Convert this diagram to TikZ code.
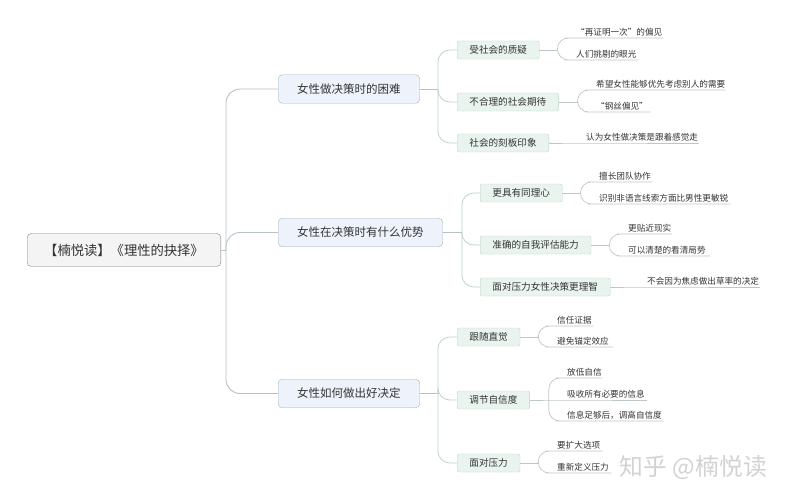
\documentclass[tikz,border=0pt]{standalone}
\usepackage{fontspec}
\setmainfont{Noto Sans CJK SC}
\usepackage{tikz}
\usetikzlibrary{positioning}
\definecolor{RootFill}{HTML}{F4F4F4}
\definecolor{RootLine}{HTML}{7F7F7F}
\definecolor{TopicFill}{HTML}{EEF3FB}
\definecolor{TopicLine}{HTML}{A3B4BF}
\definecolor{SubFill}{HTML}{EAF4EF}
\definecolor{SubLine}{HTML}{BBD2C8}
\definecolor{Wire}{HTML}{B4C2C6}
\definecolor{Twig}{HTML}{BFC6C6}
\definecolor{Ink}{HTML}{333333}
\definecolor{Mark}{HTML}{D2D2D2}

\begin{document}
\begin{tikzpicture}[
    x=1pt, y=-1pt,
    root/.style={draw=RootLine, fill=RootFill, rounded corners=4pt, anchor=west, minimum height=33pt,
      inner xsep=17pt, inner ysep=0pt, text=Ink, font={\fontsize{13.3}{16}\selectfont}},
    topic/.style={draw=TopicLine, fill=TopicFill, rounded corners=4pt, anchor=west, minimum height=28.5pt,
      inner xsep=19pt, inner ysep=0pt, text=Ink, font={\fontsize{11.5}{14}\selectfont}},
    sub/.style={draw=SubLine, fill=SubFill, rounded corners=2pt, anchor=west, minimum height=18pt,
      inner xsep=12.2pt, inner ysep=0pt, text=Ink, font={\fontsize{9.6}{12}\selectfont}},
    leaf/.style={anchor=south west, text width=#1pt, inner xsep=0pt, inner ysep=1.5pt, align=left,
      text=Ink, font={\fontsize{8.6}{10}\selectfont}},
    wire/.style={draw=Wire, line width=0.9pt},
    trunk/.style={wire, rounded corners=14pt},
    branch/.style={draw=SubLine, line width=0.8pt, rounded corners=12pt},
    twig/.style={draw=Twig, line width=0.7pt, rounded corners=11pt}
  ]

  \useasboundingbox (0,0) rectangle (787,500);

  \node[root] (book) at (27,250) {【楠悦读】《理性的抉择》};
  \coordinate[right=5pt of book] (c0);

  \node[topic] (hard) at (278,89) {女性做决策时的困难};
  \node[topic] (good) at (278,232.5) {女性在决策时有什么优势};
  \node[topic] (how) at (278,393.5) {女性如何做出好决定};

  \draw[wire] (book) -- (c0);
  \draw[trunk] (c0) |- (hard);
  \draw[trunk] (c0) |- (good);
  \draw[trunk] (c0) |- (how);

  \coordinate[right=18pt of hard] (c1);
  \coordinate[right=19pt of good] (c2);
  \coordinate[right=18pt of how] (c3);

  \node[sub] (doubt) at (457,50) {受社会的质疑};
  \node[sub] (expect) at (457,102) {不合理的社会期待};
  \node[sub] (stereo) at (457,143) {社会的刻板印象};

  \node[sub] (empathy) at (480,193) {更具有同理心};
  \node[sub] (assess) at (480,245) {准确的自我评估能力};
  \node[sub] (calm) at (480,287) {面对压力女性决策更理智};

  \node[sub] (gut) at (457,337) {跟随直觉};
  \node[sub] (confid) at (457,400) {调节自信度};
  \node[sub] (press) at (457,463) {面对压力};

  \draw[wire] (hard) -- (c1);
  \draw[branch] (c1) |- (doubt);
  \draw[branch] (c1) |- (expect);
  \draw[branch] (c1) |- (stereo);

  \draw[wire] (good) -- (c2);
  \draw[branch] (c2) |- (empathy);
  \draw[branch] (c2) |- (assess);
  \draw[branch] (c2) |- (calm);

  \draw[wire] (how) -- (c3);
  \draw[branch] (c3) |- (gut);
  \draw[branch] (c3) |- (confid);
  \draw[branch] (c3) |- (press);

  \coordinate[right=18pt of doubt] (f1);
  \coordinate[right=19pt of expect] (f2);
  \coordinate[right=18pt of empathy] (f3);
  \coordinate[right=18pt of assess] (f4);
  \coordinate[right=18pt of gut] (f5);
  \coordinate[right=19pt of confid] (f6);
  \coordinate[right=18pt of press] (f7);

  \node[leaf=87] (a1) at (576,38) {“再证明一次”的偏见};
  \node[leaf=62] (a2) at (576,60) {人们挑剔的眼光};
  \node[leaf=129] (a3) at (596,90) {希望女性能够优先考虑别人的需要};
  \node[leaf=54] (a4) at (596,112) {“钢丝偏见”};
  \node[leaf=113] (a5) at (586,143) {认为女性做决策是跟着感觉走};

  \node[leaf=53] (b1) at (599,182) {擅长团队协作};
  \node[leaf=131] (b2) at (599,204) {识别非语言线索方面比男性更敏锐};
  \node[leaf=44] (b3) at (628,234) {更贴近现实};
  \node[leaf=82] (b4) at (628,256) {可以清楚的看清局势};
  \node[leaf=113] (b5) at (647,287) {不会因为焦虑做出草率的决定};

  \node[leaf=36] (d1) at (557,326) {信任证据};
  \node[leaf=56] (d2) at (557,347) {避免锚定效应};
  \node[leaf=35] (d3) at (567,378) {放低自信};
  \node[leaf=80] (d4) at (567,400) {吸收所有必要的信息};
  \node[leaf=96] (d5) at (567,421) {信息足够后，调高自信度};
  \node[leaf=45] (d6) at (557,451) {要扩大选项};
  \node[leaf=54] (d7) at (557,473) {重新定义压力};

  \draw[wire, draw=Twig] (doubt) -- (f1);
  \draw[twig] (f1) |- (a1.south west) -- (a1.south east);
  \draw[twig] (f1) |- (a2.south west) -- (a2.south east);
  \draw[wire, draw=Twig] (expect) -- (f2);
  \draw[twig] (f2) |- (a3.south west) -- (a3.south east);
  \draw[twig] (f2) |- (a4.south west) -- (a4.south east);
  \draw[twig] (stereo) -- (a5.south west) -- (a5.south east);

  \draw[wire, draw=Twig] (empathy) -- (f3);
  \draw[twig] (f3) |- (b1.south west) -- (b1.south east);
  \draw[twig] (f3) |- (b2.south west) -- (b2.south east);
  \draw[wire, draw=Twig] (assess) -- (f4);
  \draw[twig] (f4) |- (b3.south west) -- (b3.south east);
  \draw[twig] (f4) |- (b4.south west) -- (b4.south east);
  \draw[twig] (calm) -- (b5.south west) -- (b5.south east);

  \draw[wire, draw=Twig] (gut) -- (f5);
  \draw[twig] (f5) |- (d1.south west) -- (d1.south east);
  \draw[twig] (f5) |- (d2.south west) -- (d2.south east);
  \draw[twig] (f6) |- (d3.south west) -- (d3.south east);
  \draw[twig] (confid) -- (d4.south west) -- (d4.south east);
  \draw[twig] (f6) |- (d5.south west) -- (d5.south east);
  \draw[wire, draw=Twig] (press) -- (f7);
  \draw[twig] (f7) |- (d6.south west) -- (d6.south east);
  \draw[twig] (f7) |- (d7.south west) -- (d7.south east);

  \node[anchor=east, inner sep=0pt, text=Mark, font={\fontsize{23.8}{26}\selectfont}] (mark) at (767,468) {知乎 @楠悦读};
\end{tikzpicture}
\end{document}
